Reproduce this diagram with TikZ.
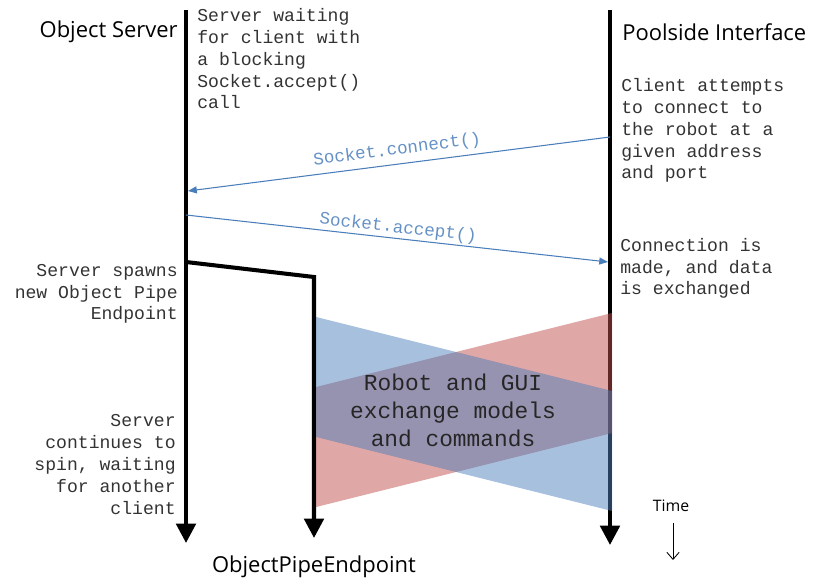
\documentclass[tikz,border=0pt]{standalone}
\usepackage{fontspec}
\setmainfont{Open Sans}
\newfontfamily\codefont{Liberation Mono}
\usetikzlibrary{arrows.meta}

\definecolor{msgblue}{HTML}{4A7EBB}
\definecolor{pipeblue}{HTML}{4F81BD}
\definecolor{pipered}{HTML}{C0504D}

\tikzset{
  lifeline/.style={line width=2.3pt, -{Triangle[length=11pt,width=11pt]}},
  msg/.style={msgblue, line width=0.6pt, -{Triangle[length=5pt,width=4pt]}},
  msglabel/.style={text=msgblue!85!white, inner sep=1pt, font=\codefont\fontsize{10}{12}\selectfont},
  note/.style={inner sep=0pt, text=black!80, font=\codefont\fontsize{10.3}{12.5}\selectfont},
  actor/.style={inner sep=0pt, font=\fontsize{12.5}{15}\selectfont},
}

\begin{document}
\begin{tikzpicture}[x=0.02cm,y=-0.02cm]
\useasboundingbox (0,0) rectangle (814,580);

% Lifeline ends
\coordinate (srvtop) at (186,10);
\coordinate (srvbot) at (186,543);
\coordinate (guitop) at (610,10);
\coordinate (guibot) at (610,545);
\coordinate (spawn) at (186,262);
\coordinate (pipetop) at (314,277);
\coordinate (pipebot) at (314,538);

% Lifelines
\draw[lifeline] (srvtop) -- (srvbot);
\draw[lifeline] (guitop) -- (guibot);
\draw[lifeline] (spawn) -- (pipetop) -- (pipebot);

% Actors
\node[actor, anchor=base east] (srv) at (178,38) {Object Server};
\node[actor, anchor=base west] (gui) at (622,41) {Poolside Interface};
\node[actor, anchor=base] (pipe) at (314,572) {ObjectPipeEndpoint};

% Handshake messages
\coordinate (conA) at (610,137);
\coordinate (conB) at (188,191);
\coordinate (accA) at (186,215);
\coordinate (accB) at (608,262);
\draw[msg] (conA) -- node[msglabel, midway, above=2pt, sloped] {Socket.connect()} (conB);
\draw[msg] (accA) -- node[msglabel, midway, above, sloped] {Socket.accept()} (accB);

% Notes (base = last line)
\node[note, anchor=base west, align=left] (waitnote) at (197,109)
  {Server waiting\\for client with\\a blocking\\Socket.accept()\\call};
\node[note, anchor=base west, align=left] (connote) at (621,179)
  {Client attempts\\to connect to\\the robot at a\\given address\\and port};
\node[note, anchor=base west, align=left] (madenote) at (620,295)
  {Connection is\\made, and data\\is exchanged};
\node[note, anchor=base east, align=right] (spawnnote) at (178,320)
  {Server spawns\\new Object Pipe\\Endpoint};
\node[note, anchor=base east, align=right] (spinnote) at (176,514)
  {Server\\continues to\\spin, waiting\\for another\\client};

% Data exchange
\fill[pipered, opacity=0.5] (316,387) -- (612,313) -- (612,433) -- (316,507) -- cycle;
\fill[pipeblue, opacity=0.5] (316,317) -- (612,391) -- (612,511) -- (316,437) -- cycle;
\node[note, align=center, text=black!85, font=\codefont\fontsize{13}{16}\selectfont] (xchg) at (453,410)
  {Robot and GUI\\exchange models\\and commands};

% Time axis
\node[inner sep=0pt, anchor=base, font=\fontsize{9}{11}\selectfont] (time) at (671,511) {Time};
\coordinate (timeA) at (673,523);
\coordinate (timeB) at (673,560);
\draw[line width=0.5pt, -{Straight Barb[length=4pt,width=7pt]}] (timeA) -- (timeB);

\end{tikzpicture}
\end{document}
